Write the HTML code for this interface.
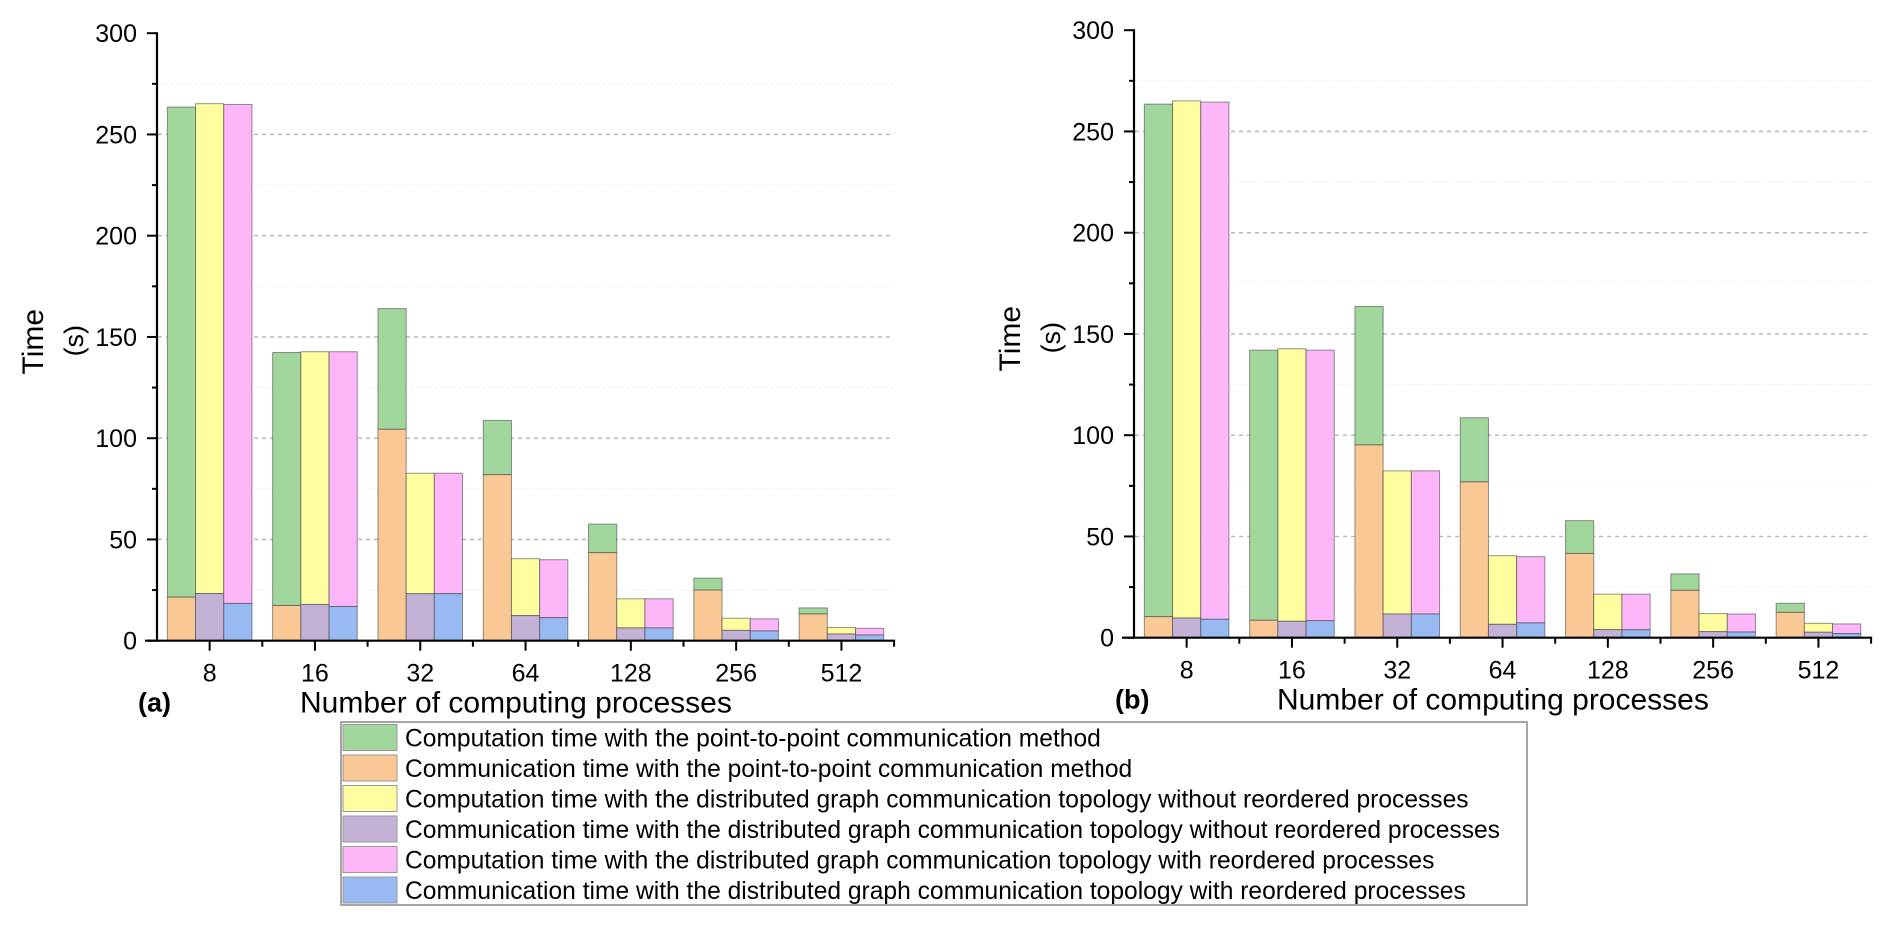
<!DOCTYPE html>
<html><head><meta charset="utf-8"><style>
html,body{margin:0;padding:0;background:#fff;}
svg{display:block;font-family:"Liberation Sans",Arial,sans-serif;}
</style></head><body>
<svg id="chart" width="1892" height="925" viewBox="0 0 1892 925" xmlns="http://www.w3.org/2000/svg">
<g id="panelA"></g>
<g id="panelB"></g>
<g id="legend"></g>
</svg>
<script>
const categories = ["8","16","32","64","128","256","512"];
const yTicks = [0,50,100,150,200,250,300];
const minorTicks = [25,75,125,175,225,275];
// Panel (a)
const aP2pTotal   = [263.5,142.3,164,108.8,57.6,30.9,16.2];
const aP2pComm    = [21.5,17.4,104.4,82,43.5,25,13.2];
const aNoReoTotal = [265.2,142.7,82.7,40.5,20.7,11.1,6.5];
const aNoReoComm  = [23.3,17.9,23.2,12.4,6.3,5.1,3.3];
const aReoTotal   = [264.8,142.7,82.7,40,20.7,10.8,6.1];
const aReoComm    = [18.4,16.9,23.2,11.4,6.3,4.8,2.8];
// Panel (b)
const bP2pTotal   = [263.5,142,163.6,108.6,57.8,31.5,17];
const bP2pComm    = [10.4,8.6,95.2,76.9,41.6,23.4,12.5];
const bNoReoTotal = [265.1,142.7,82.4,40.5,21.5,11.9,7.1];
const bNoReoComm  = [9.7,8.1,11.7,6.6,4.0,3.0,2.7];
const bReoTotal   = [264.5,142,82.4,40,21.5,11.7,6.8];
const bReoComm    = [9.1,8.4,11.7,7.3,3.9,2.8,2.0];
const legendLabels = [
 "Computation time with the point-to-point communication method",
 "Communication time with the point-to-point communication method",
 "Computation time with the distributed graph communication topology without reordered processes",
 "Communication time with the distributed graph communication topology without reordered processes",
 "Computation time with the distributed graph communication topology with reordered processes",
 "Communication time with the distributed graph communication topology with reordered processes"
];
const COLORS = ["#a1d79d","#f9c895","#fefea0","#c4b1d6","#fdb7f8","#98b9f1"];
const NS = "http://www.w3.org/2000/svg";
function mk(parent, tag, attrs, text){
  const e = document.createElementNS(NS, tag);
  for (const k in attrs) e.setAttribute(k, attrs[k]);
  if (text !== undefined) e.textContent = text;
  parent.appendChild(e); return e;
}
function drawPanel(g, ox, y0, label, series){
  const step = 105.3, unit = 2.025, axisLen = step*categories.length;
  const yS = v => y0 - v*unit;
  const xC = i => ox + step*(i+0.5);
  minorTicks.forEach(t=>{
    const l = mk(g,"line",{x1:ox+1,x2:ox+axisLen,y1:yS(t),y2:yS(t),stroke:"#e2e2e2","stroke-width":1,"stroke-dasharray":"1,2"});
    
    
  });
  yTicks.slice(1,6).forEach(t=>{
    const l = mk(g,"line",{x1:ox+1,x2:ox+axisLen,y1:yS(t),y2:yS(t),stroke:"#b5b5b5","stroke-width":1.3,"stroke-dasharray":"4,4"});
    
    
  });
  const bw = 28.2;
  // [comm values, total values, comm colour index, computation colour index]
  const groups = [[series[1],series[0],1,0],[series[3],series[2],3,2],[series[5],series[4],5,4]];
  categories.forEach((c,i)=>{
    groups.forEach((gr,j)=>{
      const x = xC(i) - 1.5*bw + j*bw;
      const comm = gr[0][i], tot = gr[1][i];
      const r1 = mk(g,"rect",{x:x,y:yS(tot),width:bw,height:(tot-comm)*unit,fill:COLORS[gr[3]],stroke:"rgba(60,60,60,0.55)","stroke-width":1});
      
      
      const r2 = mk(g,"rect",{x:x,y:yS(comm),width:bw,height:comm*unit,fill:COLORS[gr[2]],stroke:"rgba(60,60,60,0.55)","stroke-width":1});
      
      
    });
  });
  const ya = mk(g,"line",{x1:ox,x2:ox,y1:yS(300)-1,y2:y0+1,stroke:"#000","stroke-width":2.2});
  
  
  const xa = mk(g,"line",{x1:ox-12,x2:ox+axisLen+1,y1:y0,y2:y0,stroke:"#000","stroke-width":2.2});
  
  
  yTicks.forEach(t=>{
    mk(g,"line",{x1:ox-10,x2:ox,y1:yS(t),y2:yS(t),stroke:"#000","stroke-width":2});
    const tx = mk(g,"text",{x:ox-20,y:yS(t)+9,"text-anchor":"end","font-size":25,fill:"#000"},t);
    
    
  });
  minorTicks.forEach(t=>{ mk(g,"line",{x1:ox-5,x2:ox,y1:yS(t),y2:yS(t),stroke:"#000","stroke-width":2}); });
  categories.forEach((c,i)=>{
    mk(g,"line",{x1:xC(i),x2:xC(i),y1:y0,y2:y0+10,stroke:"#000","stroke-width":2});
    mk(g,"line",{x1:ox+step*(i+1),x2:ox+step*(i+1),y1:y0,y2:y0+6,stroke:"#000","stroke-width":2});
    const tx = mk(g,"text",{x:xC(i),y:y0+41,"text-anchor":"middle","font-size":25,fill:"#000"},c);
    
    
  });
  const t1 = mk(g,"text",{transform:`translate(${ox-114},${y0-299}) rotate(-90)`,"text-anchor":"middle","font-size":30,fill:"#000"},"Time");
  
  
  const t2 = mk(g,"text",{transform:`translate(${ox-74},${y0-300}) rotate(-90)`,"text-anchor":"middle","font-size":27,fill:"#000"},"(s)");
  
  
  const xt = mk(g,"text",{x:ox+143,y:y0+72,"font-size":30,fill:"#000"},"Number of computing processes");
  
  
  const pl = mk(g,"text",{x:ox-19,y:y0+71,"font-size":27,"font-weight":"bold",fill:"#000"},label);
  
  
}
drawPanel(document.getElementById("panelA"),157,640.7,"(a)",[aP2pTotal,aP2pComm,aNoReoTotal,aNoReoComm,aReoTotal,aReoComm]);
drawPanel(document.getElementById("panelB"),1134,637.7,"(b)",[bP2pTotal,bP2pComm,bNoReoTotal,bNoReoComm,bReoTotal,bReoComm]);
const lg = document.getElementById("legend");
const box = mk(lg,"rect",{x:341,y:722,width:1186,height:183,fill:"#fff",stroke:"#888","stroke-width":1.5});


legendLabels.forEach((t,i)=>{
  const y = 723.5 + i*30.5;
  const sw = mk(lg,"rect",{x:343,y:y+1,width:54,height:26,fill:COLORS[i],stroke:"#999","stroke-width":1});
  
  
  const tx = mk(lg,"text",{x:405,y:y+23,"font-size":24.6,fill:"#000"},t);
  
  
});
</script>
</body></html>
